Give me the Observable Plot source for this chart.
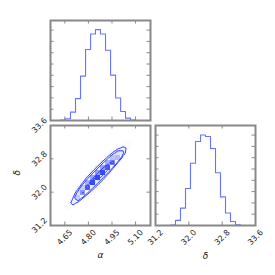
<!DOCTYPE html>
<html><head><meta charset="utf-8">
<script src="https://cdn.jsdelivr.net/npm/d3@7"></script>
<script src="https://cdn.jsdelivr.net/npm/@observablehq/plot@0.6"></script>
<style>
body{margin:0;background:#fff;}
#wrap{position:relative;width:275px;height:275px;overflow:hidden;}
#wrap svg{position:absolute;left:0;top:0;}
</style></head><body><div id="wrap"></div>
<script>
// ---- data ----
const alphaEdges = [4.559,4.591,4.623,4.654,4.686,4.718,4.750,4.782,4.814,4.845,4.877,4.909,4.941,4.973,5.005,5.036,5.068,5.100,5.132,5.164,5.195];
const alphaCounts = [0,0,5,15,74,194,393,628,765,804,765,622,402,199,80,21,3,0,0,0];
const deltaEdges = [31.20,31.32,31.44,31.56,31.68,31.80,31.92,32.04,32.16,32.28,32.40,32.52,32.64,32.76,32.88,33.00,33.12,33.24,33.36,33.48,33.60];
const deltaCounts = [0,0,0,4,45,154,328,551,744,801,788,681,467,253,110,36,6,0,0,0];
const alphaTicks = [4.65,4.80,4.95,5.10];
const deltaTicks = [31.2,32.0,32.8,33.6];
const countTicks = [100,200,300,400,500,600,700,800];
// 2D histogram cells: [alpha bin, delta bin, count]
const cells2d = [
 [1,1,4],[1,2,3],
 [2,1,4],[2,2,20],[2,3,14],[2,4,4],
 [3,2,12],[3,3,55],[3,4,38],[3,5,12],[3,6,4],
 [4,2,5],[4,3,28],[4,4,115],[4,5,80],[4,6,30],[4,7,8],
 [5,3,10],[5,4,55],[5,5,220],[5,6,150],[5,7,60],[5,8,15],
 [6,4,15],[6,5,80],[6,6,300],[6,7,215],[6,8,90],[6,9,22],
 [7,5,20],[7,6,95],[7,7,360],[7,8,260],[7,9,110],[7,10,28],
 [8,6,22],[8,7,105],[8,8,392],[8,9,280],[8,10,118],[8,11,30],
 [9,7,24],[9,8,110],[9,9,400],[9,10,290],[9,11,120],[9,12,32],
 [10,8,22],[10,9,108],[10,10,396],[10,11,285],[10,12,116],[10,13,30],
 [11,9,20],[11,10,100],[11,11,375],[11,12,265],[11,13,105],[11,14,28],
 [12,10,15],[12,11,85],[12,12,325],[12,13,225],[12,14,90],[12,15,22],
 [13,11,10],[13,12,60],[13,13,245],[13,14,165],[13,15,62],[13,16,15],
 [14,12,5],[14,13,32],[14,14,140],[14,15,95],[14,16,35],[14,17,8],
 [15,14,14],[15,15,70],[15,16,48],[15,17,14],
 [16,15,5],[16,16,22],[16,17,15],[16,18,4],
 [17,17,5],[17,18,3]
];
const levels = [0.1175,0.3935,0.6753,0.8647];

// ---- derived tables ----
const C = "#3344ff";
const FRAME = "#888888";
const FONT = "DejaVu Sans";
const stepData = (edges, counts) => edges.map((e,k)=>({x:e, y: counts[Math.min(k, counts.length-1)]}));
const nA = alphaCounts.length, nD = deltaCounts.length;
const grid = new Array(nA*nD).fill(0);
cells2d.forEach(([i,j,v])=>{ grid[j*nA+i] = v; });
const hmax = d3.max(cells2d, d=>d[2]);
const cellRows = cells2d.map(([i,j,v])=>({x1:alphaEdges[i],x2:alphaEdges[i+1],y1:deltaEdges[j],y2:deltaEdges[j+1],t:(v/hmax)**2}));
const sorted = grid.slice().sort((a,b)=>b-a);
const tot = d3.sum(sorted);
let cum = 0; const cs = sorted.map(v=>(cum+=v)/tot);
const V = levels.map(l=>{let val=sorted[0]; for(let k=0;k<sorted.length;k++){ if(cs[k]<=l) val=sorted[k]; } return val;}).sort((a,b)=>a-b);

const W=275,H=275;
const common = {width:W,height:H,style:{background:"transparent",overflow:"visible",fontFamily:FONT}};
const tk = 3.5;
function ticksX(vals, ph){ return [
  Plot.tickX(vals,{x:d=>d,insetTop:ph-tk,stroke:FRAME,strokeWidth:1}),
  Plot.tickX(vals,{x:d=>d,insetBottom:ph-tk,stroke:FRAME,strokeWidth:1})]; }
function ticksY(vals, pw){ return [
  Plot.tickY(vals,{y:d=>d,insetRight:pw-tk,stroke:FRAME,strokeWidth:1}),
  Plot.tickY(vals,{y:d=>d,insetLeft:pw-tk,stroke:FRAME,strokeWidth:1})]; }
const tickLabel = {fontSize:8,fontFamily:FONT,fill:"#222",rotate:-45,textAnchor:"middle",lineAnchor:"middle"};

const p1 = Plot.plot({...common, marginLeft:50, marginRight:125, marginTop:20, marginBottom:155,
  x:{domain:[alphaEdges[0],alphaEdges[nA]],axis:null}, y:{domain:[0,885],axis:null},
  marks:[
    Plot.line(stepData(alphaEdges,alphaCounts),{x:"x",y:"y",curve:"step-after",stroke:C,strokeWidth:1.1,strokeOpacity:0.75}),
    ...ticksX(alphaTicks,100), ...ticksY(countTicks,100),
    Plot.frame({stroke:FRAME,strokeWidth:2})
  ]});

const p2 = Plot.plot({...common, marginLeft:50, marginRight:125, marginTop:125, marginBottom:50,
  x:{domain:[alphaEdges[0],alphaEdges[nA]],axis:null}, y:{domain:[deltaEdges[0],deltaEdges[nD]],axis:null},
  marks:[
    Plot.rect(cellRows,{x1:"x1",x2:"x2",y1:"y1",y2:"y2",fill:C,fillOpacity:"t",inset:0,shapeRendering:"crispEdges"}),
    Plot.contour(grid,{width:nA,height:nD,x1:alphaEdges[0],x2:alphaEdges[nA],y1:deltaEdges[0],y2:deltaEdges[nD],value:Plot.identity,thresholds:V,stroke:C,fill:"none",strokeWidth:1}),
    ...ticksX(alphaTicks,100), ...ticksY(deltaTicks,100),
    Plot.frame({stroke:FRAME,strokeWidth:2}),
    Plot.text(alphaTicks,{...tickLabel,x:d=>d,frameAnchor:"bottom",dy:12,text:d=>d.toFixed(2)}),
    Plot.text(deltaTicks,{...tickLabel,y:d=>d,frameAnchor:"left",dx:-11,text:d=>d.toFixed(1)}),
    Plot.text(["α"],{frameAnchor:"bottom",dy:32,fontSize:9,fontStyle:"italic",fontFamily:FONT,fill:"#222"}),
    Plot.text(["δ"],{frameAnchor:"left",dx:-33,rotate:-90,fontSize:9,fontStyle:"italic",fontFamily:FONT,fill:"#222"})
  ]});

const p3 = Plot.plot({...common, marginLeft:155, marginRight:20, marginTop:125, marginBottom:50,
  x:{domain:[deltaEdges[0],deltaEdges[nD]],axis:null}, y:{domain:[0,885],axis:null},
  marks:[
    Plot.line(stepData(deltaEdges,deltaCounts),{x:"x",y:"y",curve:"step-after",stroke:C,strokeWidth:1.1,strokeOpacity:0.75}),
    ...ticksX(deltaTicks,100), ...ticksY(countTicks,100),
    Plot.frame({stroke:FRAME,strokeWidth:2}),
    Plot.text(deltaTicks,{...tickLabel,x:d=>d,frameAnchor:"bottom",dy:12,text:d=>d.toFixed(1)}),
    Plot.text(["δ"],{frameAnchor:"bottom",dy:33,fontSize:9,fontStyle:"italic",fontFamily:FONT,fill:"#222"})
  ]});

const wrap = document.getElementById("wrap");
[p2,p1,p3].forEach(p=>wrap.appendChild(p));
</script></body></html>
